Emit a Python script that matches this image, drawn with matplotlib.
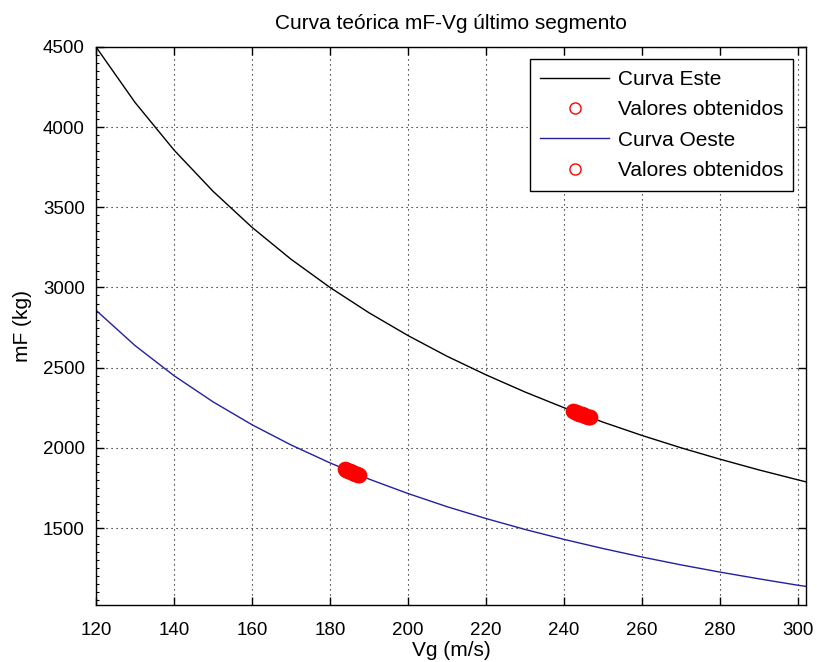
import matplotlib
matplotlib.use("Agg")
import matplotlib.pyplot as plt
from matplotlib.ticker import MultipleLocator

plt.rcParams['font.family'] = ['Liberation Sans', 'DejaVu Sans']

# Theoretical fuel mass curves (Vg in m/s, mF in kg)
vg_curve = [120, 130, 140, 150, 160, 170, 180, 190, 200, 210, 220,
            230, 240, 250, 260, 270, 280, 290, 300, 302]
mf_este = [4500, 4154, 3857, 3600, 3375, 3176, 3000, 2842, 2700, 2571, 2455,
           2348, 2250, 2160, 2077, 2000, 1929, 1862, 1800, 1788]
mf_oeste = [2858, 2638, 2450, 2287, 2144, 2018, 1906, 1805, 1715, 1633, 1559,
            1491, 1429, 1372, 1319, 1270, 1225, 1183, 1143, 1136]

# Values obtained for each route
vg_obt_este = [242.4, 242.7, 243.0, 243.3, 243.6, 243.9, 244.2, 244.5,
               244.8, 245.1, 245.4, 245.7, 246.0, 246.3, 246.6]
mf_obt_este = [2228, 2225, 2222, 2219, 2217, 2214, 2211, 2208,
               2206, 2203, 2200, 2198, 2195, 2193, 2190]
vg_obt_oeste = [183.8, 184.1, 184.4, 184.7, 185.0, 185.3, 185.6, 185.9,
                186.2, 186.5, 186.8, 187.1, 187.4]
mf_obt_oeste = [1866, 1863, 1860, 1857, 1854, 1851, 1848, 1845,
                1842, 1839, 1836, 1833, 1830]

x_ticks = [120, 140, 160, 180, 200, 220, 240, 260, 280, 300]
y_ticks = [1500, 2000, 2500, 3000, 3500, 4000, 4500]

fig = plt.figure(figsize=(8.17, 6.62), dpi=100)
ax = fig.add_axes([0.1175, 0.0861, 0.869, 0.843])

ax.plot(vg_curve, mf_este, color='black', lw=1.0, label='Curva Este')
ax.plot(vg_obt_este, mf_obt_este, 'o', ls='none', mfc='none', mec='red',
        ms=9.5, mew=1.8, label='Valores obtenidos')
ax.plot(vg_curve, mf_oeste, color='#2020a0', lw=1.0, label='Curva Oeste')
ax.plot(vg_obt_oeste, mf_obt_oeste, 'o', ls='none', mfc='none', mec='red',
        ms=9.5, mew=1.8, label='Valores obtenidos')

ax.set_xlim(120, 302)
ax.set_ylim(1020, 4500)
ax.set_xticks(x_ticks)
ax.set_yticks(y_ticks)
ax.yaxis.set_minor_locator(MultipleLocator(50))
ax.tick_params(which='major', direction='in', length=6, width=1.0,
               top=True, right=True, labelsize=13.5)
ax.tick_params(axis='x', which='major', pad=12)
ax.tick_params(axis='y', which='major', pad=8)
ax.tick_params(which='minor', axis='y', direction='in', length=2.5,
               width=0.8, left=True, right=False)
ax.tick_params(which='minor', axis='x', bottom=False, top=False)

ax.grid(True, which='major', color='black', linestyle=(0, (1, 3.5)), lw=0.8)
for s in ax.spines.values():
    s.set_linewidth(1.0)

ax.set_title('Curva teórica mF-Vg último segmento', fontsize=15, pad=13)
ax.set_xlabel('Vg (m/s)', fontsize=15, labelpad=2)
ax.set_ylabel('mF (kg)', fontsize=15, labelpad=8)

leg = ax.legend(loc='upper right', fontsize=15, frameon=True, fancybox=False,
                edgecolor='black', framealpha=1, borderaxespad=0.6,
                handlelength=3.3, handletextpad=0.4, labelspacing=0.55,
                borderpad=0.5)
leg.get_frame().set_linewidth(1.0)
for h in leg.legend_handles[1::2]:
    h.set_markersize(8)
    h.set_markeredgewidth(1.0)

fig.savefig('out.png', dpi=100)
